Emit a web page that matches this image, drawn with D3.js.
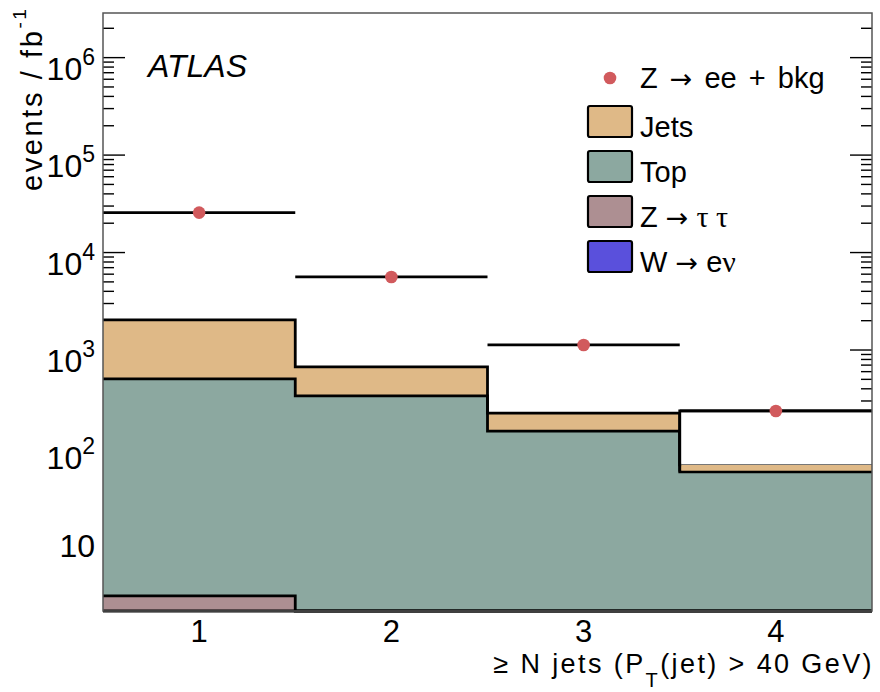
<!DOCTYPE html>
<html>
<head>
<meta charset="utf-8">
<script src="https://cdn.jsdelivr.net/npm/d3@7"></script>
<style>
  body { margin: 0; background: #fff; }
  text { font-family: "Liberation Sans", Arial, Helvetica, sans-serif; fill: #000; }
</style>
</head>
<body>
<svg id="chart" width="880" height="692"></svg>
<script>
// Jet multiplicity bins (>= N jets)
const bins = [1, 2, 3, 4];
const binLabels = ["1", "2", "3", "4"];

// Z -> ee candidates plus background (events / fb^-1)
const dataZee = [25700, 5620, 1127, 237];

// Background contributions, stacked bottom to top: W -> e nu, Z -> tau tau, Top, Jets
const wenu    = [1.0, 0.5, 0.2, 0.1];
const ztautau = [2.0, 0.6, 0.3, 0.1];
const topBkg  = [502, 337, 147, 56];
const jetsBkg = [1531, 333, 78, 10];

// Bins whose region between the stack and the data line is left open (outlined, unfilled)
const openBins = [4];

// Decade labels on the vertical axis: [mantissa, exponent]
const yTickLabels = [["10", ""], ["10", "2"], ["10", "3"], ["10", "4"], ["10", "5"], ["10", "6"]];
const yTickValues = [1e1, 1e2, 1e3, 1e4, 1e5, 1e6];

const seriesNames = ["W \u2192 e\u03bd", "Z \u2192 \u03c4 \u03c4", "Top", "Jets"];
const seriesColors = ["#5a50dc", "#ad8f92", "#8ca8a0", "#dfb987"];

const frame = { left: 103, right: 872, top: 13, bottom: 611 };

const svg = d3.select("#chart");

const x = d3.scaleLinear().domain([0.5, 4.5]).range([frame.left, frame.right]);
const y = d3.scaleLog().domain([2.1, 2.87e6]).range([frame.bottom, frame.top]);
const yc = v => Math.min(frame.bottom, Math.max(frame.top, y(Math.max(v, 1e-3))));

// ---- axis ticks (drawn first so the filled stack sits over them) ----
const tickG = svg.append("g");
const allTicks = y.ticks().filter(v => v >= y.domain()[0] && v <= y.domain()[1]);
allTicks.forEach(v => {
  const major = Math.abs(Math.log10(v) - Math.round(Math.log10(v))) < 1e-9;
  const len = major ? 22 : 11;
  const yy = y(v);
  tickG.append("line").attr("x1", frame.left).attr("x2", frame.left + len)
    .attr("y1", yy).attr("y2", yy).attr("stroke", "#000").attr("stroke-width", 1.4);
  tickG.append("line").attr("x1", frame.right - len).attr("x2", frame.right)
    .attr("y1", yy).attr("y2", yy).attr("stroke", "#000").attr("stroke-width", 1.4);
});

// ---- stacked histograms ----
const layers = [wenu, ztautau, topBkg, jetsBkg];
const cumulative = [];
layers.forEach((arr, i) => {
  cumulative.push(arr.map((v, j) => v + (i > 0 ? cumulative[i - 1][j] : 0)));
});

function stepLine(vals) {
  let p = `M${x(bins[0] - 0.5)},${yc(vals[0])}`;
  vals.forEach((v, j) => {
    if (j > 0) p += `V${yc(v)}`;
    p += `H${x(bins[j] + 0.5)}`;
  });
  return p;
}
function stepArea(vals) {
  return `M${x(bins[0] - 0.5)},${frame.bottom}` +
    stepLine(vals).replace(/^M/, "L") +
    `V${frame.bottom}Z`;
}

const stackG = svg.append("g");
// each cumulative level is filled down to the axis, top of the stack first
for (let i = layers.length - 1; i >= 0; i--) {
  stackG.append("path").attr("d", stepArea(cumulative[i]))
    .attr("fill", seriesColors[i]).attr("stroke", "none");
}
for (let i = layers.length - 1; i >= 0; i--) {
  stackG.append("path").attr("d", stepLine(cumulative[i]))
    .attr("fill", "none").attr("stroke", "#000").attr("stroke-width", 2.8)
    .attr("stroke-linejoin", "miter");
}

// open (unfilled) region between stack and data line
const jetsTop = cumulative[3], topTop = cumulative[2];
openBins.forEach(b => {
  const j = bins.indexOf(b);
  const x0 = x(b - 0.5), x1 = x(b + 0.5);
  const yTop = y(dataZee[j]), yBot = y(jetsTop[j]), yTT = y(topTop[j]);
  stackG.append("rect").attr("x", x0 + 1.4).attr("y", yTop).attr("width", x1 - x0 - 1.4)
    .attr("height", yBot - yTop).attr("fill", "#fff");
  stackG.append("rect").attr("x", x0 + 1.4).attr("y", yBot - 0.5).attr("width", x1 - x0 - 1.4)
    .attr("height", yTT - 1.4 - (yBot - 0.5)).attr("fill", seriesColors[3]);
  stackG.append("line").attr("x1", x0).attr("x2", x1).attr("y1", yBot - 0.5).attr("y2", yBot - 0.5)
    .attr("stroke", "#777").attr("stroke-width", 1.1);
  stackG.append("path")
    .attr("d", `M${x0},${yTT}V${yTop}H${x1}`)
    .attr("fill", "none").attr("stroke", "#000").attr("stroke-width", 2.8);
});

// ---- data: horizontal bin-width bars and markers ----
const dataG = svg.append("g");
bins.forEach((b, j) => {
  dataG.append("line").attr("x1", x(b - 0.5)).attr("x2", x(b + 0.5))
    .attr("y1", y(dataZee[j])).attr("y2", y(dataZee[j]))
    .attr("stroke", "#000").attr("stroke-width", 2.8);
});
dataG.selectAll("circle").data(dataZee).join("circle")
  .attr("cx", (d, j) => x(bins[j])).attr("cy", d => y(d)).attr("r", 6.3)
  .attr("fill", "#d15a5d");

// ---- frame ----
svg.append("rect").attr("x", frame.left).attr("y", frame.top)
  .attr("width", frame.right - frame.left).attr("height", frame.bottom - frame.top)
  .attr("fill", "none").attr("stroke", "#555").attr("stroke-width", 1.5);

// ---- y tick labels ----
yTickValues.forEach((v, i) => {
  const [m, e] = yTickLabels[i];
  const yy = y(v);
  const t = svg.append("text").attr("x", 95).attr("text-anchor", "end")
    .style("font-size", "32px");
  if (e === "") {
    t.attr("y", yy + 12).text(m);
  } else {
    t.attr("y", yy + 22);
    t.append("tspan").text(m);
    t.append("tspan").attr("dy", -15).style("font-size", "23px").text(e);
  }
});

// ---- x tick labels ----
bins.forEach((b, j) => {
  svg.append("text").attr("x", x(b)).attr("y", 642).attr("text-anchor", "middle")
    .style("font-size", "31px").text(binLabels[j]);
});

// ---- axis titles ----
const xt = svg.append("text").attr("x", 874).attr("y", 673).attr("text-anchor", "end")
  .style("font-size", "27px").style("letter-spacing", "2.4px");
xt.append("tspan").text("\u2265 N jets (P");
xt.append("tspan").attr("dy", 14).style("font-size", "20px").text("T");
xt.append("tspan").attr("dy", -14).text("(jet) > 40 GeV)");

const yt = svg.append("text").attr("transform", "translate(42,191) rotate(-90)")
  .style("font-size", "29px").style("letter-spacing", "2.6px");
yt.append("tspan").text("events / fb");
yt.append("tspan").attr("dy", -16).style("font-size", "19px").text("-1");

// ---- experiment label ----
svg.append("text").attr("x", 148).attr("y", 77).style("font-size", "32px")
  .style("font-style", "italic").text("ATLAS");

// ---- legend ----
const leg = svg.append("g");
const serif = "'Liberation Serif', 'DejaVu Serif', serif";
const arrowFont = "'DejaVu Sans', sans-serif";
leg.append("circle").attr("cx", 610).attr("cy", 78).attr("r", 6.3).attr("fill", "#d15a5d");
const lt0 = leg.append("text").attr("x", 640).attr("y", 88).style("font-size", "29px")
  .style("word-spacing", "4px");
lt0.append("tspan").text("Z ");
lt0.append("tspan").style("font-family", arrowFont).style("font-size", "27px").text("\u2192");
lt0.append("tspan").text(" ee + bkg");

const legendOrder = [3, 2, 1, 0];
legendOrder.forEach((si, r) => {
  const by = 106 + 45 * r;
  leg.append("rect").attr("x", 588).attr("y", by).attr("width", 44).attr("height", 31)
    .attr("rx", 2).attr("fill", seriesColors[si]).attr("stroke", "#000").attr("stroke-width", 2.2);
  const t = leg.append("text").attr("x", 640).attr("y", by + 31).style("font-size", "29px");
  const name = seriesNames[si];
  if (name.includes("\u2192")) {
    const [a, b] = name.split(" \u2192 ");
    t.append("tspan").text(a + " ");
    t.append("tspan").style("font-family", arrowFont).style("font-size", "27px").text("\u2192");
    t.append("tspan").text(" ");
    if (b.startsWith("e")) {
      t.append("tspan").text("e");
      t.append("tspan").style("font-family", serif).style("font-size", "30px").text(b.slice(1));
    } else {
      t.append("tspan").style("font-family", serif).style("font-size", "30px").text(b);
    }
  } else {
    t.text(name);
  }
});
</script>
</body>
</html>
